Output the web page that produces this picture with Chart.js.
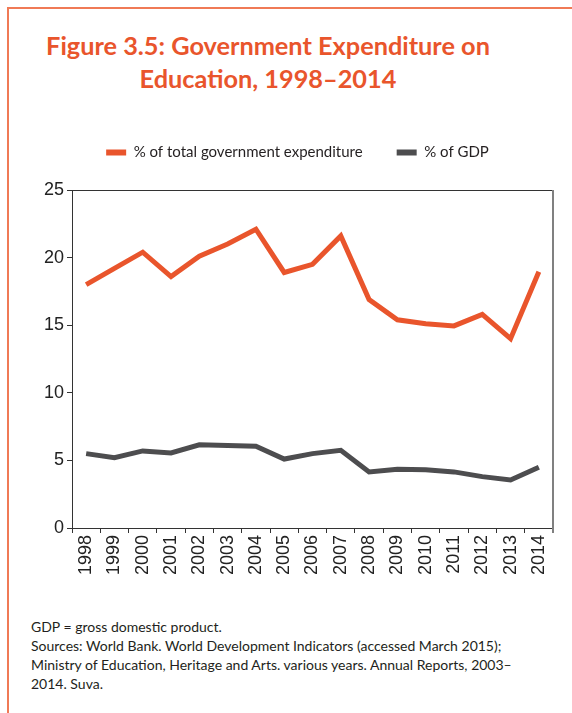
<!DOCTYPE html>
<html>
<head>
<meta charset="utf-8">
<script src="https://cdn.jsdelivr.net/npm/chart.js@4"></script>
<style>
  body { margin: 0; width: 572px; height: 713px; overflow: hidden; background: #fff; font-family: Lato, "Open Sans", sans-serif; }
  .frame { position: absolute; left: 7px; top: 7px; width: 620px; height: 760px; border: 2px solid #f07a56; }
  .titulo { position: absolute; left: 0; top: 29px; width: 536px; text-align: center; color: #e9552c;
            font-weight: bold; font-size: 25.3px; line-height: 33px; }
  .grafico { position: absolute; left: 0; top: 107px; width: 572px; height: 503px; }
  .notas { position: absolute; left: 31px; top: 617px; width: 530px; color: #231f20; font-size: 14px; line-height: 19px; }
</style>
</head>
<body>
<div class="frame"></div>
<div class="titulo">Figure 3.5: Government Expenditure on<br>Education, 1998–2014</div>
<div class="grafico"><canvas id="grafico" width="572" height="503"></canvas></div>
<div class="notas">GDP = gross domestic product.<br>Sources: World Bank. World Development Indicators (accessed March 2015);<br>Ministry of Education, Heritage and Arts. various years. Annual Reports, 2003–<br>2014. Suva.</div>

<script>
// anos e séries
var anos = ['1998', '1999', '2000', '2001', '2002', '2003', '2004', '2005', '2006',
            '2007', '2008', '2009', '2010', '2011', '2012', '2013', '2014'];
var gastoTotal = [18.0, 19.2, 20.4, 18.6, 20.1, 21.0, 22.1, 18.9, 19.5,
                  21.6, 16.9, 15.4, 15.1, 14.95, 15.8, 14.0, 18.95];
var gastoPib = [5.5, 5.2, 5.7, 5.55, 6.15, 6.1, 6.05, 5.1, 5.5,
                5.75, 4.15, 4.35, 4.3, 4.15, 3.8, 3.55, 4.5];
var ticksY = [0, 5, 10, 15, 20, 25];

var laranja = '#e9552c';
var cinza = '#4d4d4f';

// moldura do gráfico (linha de cima e da direita)
var moldura = {
    id: 'moldura',
    afterDraw: function (chart) {
        var a = chart.chartArea, c = chart.ctx;
        c.save();
        c.strokeStyle = '#333';
        c.lineWidth = 1;
        c.beginPath();
        c.moveTo(a.left, a.top + 0.5);
        c.lineTo(a.right, a.top + 0.5);
        c.stroke();
        c.strokeStyle = '#808080';
        c.lineWidth = 2;
        c.beginPath();
        c.moveTo(a.right, a.top);
        c.lineTo(a.right, a.bottom + 5);
        c.stroke();
        c.restore();
    }
};

// espaço extra abaixo da legenda
var espacoLegenda = {
    id: 'espacoLegenda',
    beforeInit: function (chart) {
        var fit = chart.legend.fit;
        chart.legend.fit = function () {
            fit.bind(chart.legend)();
            this.height += 20;
        };
    }
};

var ctx = document.getElementById('grafico').getContext('2d');
var grafico = new Chart(ctx, {
    type: 'line',
    data: {
        labels: anos,
        datasets: [{
            label: '% of total government expenditure',
            data: gastoTotal,
            borderColor: laranja,
            backgroundColor: laranja,
            borderWidth: 5,
            pointRadius: 0,
            tension: 0
        }, {
            label: '% of GDP',
            data: gastoPib,
            borderColor: cinza,
            backgroundColor: cinza,
            borderWidth: 5,
            pointRadius: 0,
            tension: 0
        }]
    },
    plugins: [moldura, espacoLegenda],
    options: {
        responsive: false,
        animation: false,
        layout: { padding: { left: 42, right: 19, top: 4, bottom: 12 } },
        plugins: {
            legend: {
                labels: {
                    boxWidth: 20,
                    boxHeight: 6,
                    padding: 34,
                    color: '#231f20',
                    font: { family: 'Lato', size: 15 },
                    generateLabels: function (chart) {
                        var itens = Chart.defaults.plugins.legend.labels.generateLabels(chart);
                        itens.forEach(function (i) { i.lineWidth = 0; });
                        return itens;
                    }
                }
            },
            tooltip: { enabled: false }
        },
        scales: {
            x: {
                offset: true,
                grid: { offset: true, drawOnChartArea: false, tickLength: 5, color: '#333' },
                border: { color: '#333' },
                ticks: {
                    minRotation: 90, maxRotation: 90, padding: 2,
                    color: '#222',
                    font: { family: 'Liberation Sans', size: 18 }
                },
                afterFit: function (scale) { scale.height = 70; }
            },
            y: {
                min: 0,
                max: 25,
                afterBuildTicks: function (scale) {
                    scale.ticks = ticksY.map(function (v) { return { value: v }; });
                },
                grid: { drawOnChartArea: false, tickLength: 5, color: '#333' },
                border: { color: '#333' },
                ticks: {
                    padding: 3,
                    color: '#222',
                    font: { family: 'Liberation Sans', size: 18 }
                },
                afterFit: function (scale) { scale.width = 30; }
            }
        }
    }
});
</script>
</body>
</html>
